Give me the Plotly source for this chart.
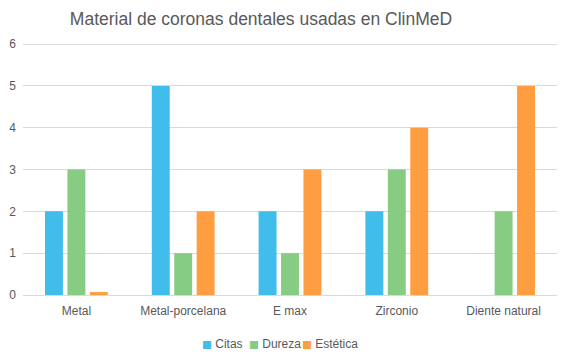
import plotly.graph_objects as go

categories = ["Metal", "Metal-porcelana", "E max", "Zirconio", "Diente natural"]
citas = [2, 5, 2, 2, 0]
dureza = [3, 1, 1, 3, 2]
estetica = [0.07, 2, 3, 4, 5]
y_ticks = [0, 1, 2, 3, 4, 5, 6]
series_names = ["Citas", "Dureza", "Estética"]

colors = {"Citas": "#41BDEB", "Dureza": "#87CC83", "Estética": "#FF9E40"}
legend_widths = {"Citas": 2, "Dureza": 8, "Estética": 80}

fig = go.Figure()
for name, vals in zip(series_names, [citas, dureza, estetica]):
    fig.add_trace(go.Bar(x=categories, y=vals, name=name, marker_color=colors[name],
                         marker_line_width=0, showlegend=False, legendgroup=name))
# legend entries: coloured square glyph + name
for name in series_names:
    fig.add_trace(go.Scatter(
        x=[None], y=[None], mode="markers", legendgroup=name,
        name=f"<span style='color:{colors[name]};font-family:DejaVu Sans;font-size:10.5px'>■</span> {name}",
        marker=dict(size=0, color="rgba(0,0,0,0)", line=dict(width=0)),
        legendwidth=legend_widths[name]))

fig.update_layout(
    width=563, height=361,
    margin=dict(l=23, r=6, t=42, b=66, autoexpand=False),
    paper_bgcolor="white", plot_bgcolor="white",
    font=dict(family="Liberation Sans, Arial, sans-serif", color="#595959", size=12),
    title=dict(text="Material de coronas dentales usadas en ClinMeD", x=261 / 563, xanchor="center",
               xref="container", yref="container", y=0.948, yanchor="middle",
               font=dict(size=17.5, color="#595959")),
    barmode="group", bargap=0.37, bargroupgap=0.2,
    xaxis=dict(showgrid=False, showline=True, linecolor="#D9D9D9", linewidth=1,
               ticks="", tickfont=dict(size=12, color="#595959"), automargin=False,
               ticklabelstandoff=5),
    yaxis=dict(range=[0, 6.05], tickvals=y_ticks, showgrid=True, gridcolor="#D9D9D9",
               gridwidth=1, zeroline=False, showline=False, ticks="",
               tickfont=dict(size=12, color="#595959"), ticklabelstandoff=6, automargin=False),
    legend=dict(orientation="h", x=162 / 563, xanchor="left", xref="container",
                y=0.05, yanchor="middle", yref="container",
                font=dict(size=12, color="#595959"), itemwidth=30,
                traceorder="normal", tracegroupgap=0),
    showlegend=True,
)

fig.write_html("out.html", config={"displayModeBar": False},
               post_script="document.body.style.margin='0';")
